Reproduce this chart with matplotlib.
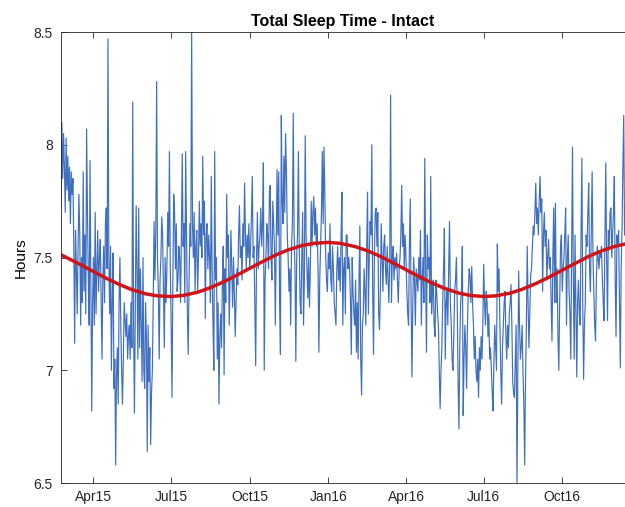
import matplotlib
matplotlib.use('Agg')
import matplotlib.pyplot as plt
import matplotlib.dates as mdates
import pandas as pd

# daily total sleep time (hours), first night 2015-02-22
start_date = '2015-02-22'
tst_hours = [
    # Feb - May 2015
    7.72, 8.1, 7.85, 8.05, 7.9, 7.7, 8.03, 7.8, 7.95, 7.75,
    7.9, 7.65, 7.88, 7.78, 7.85, 7.55, 7.12, 7.62, 7.45, 7.25,
    7.55, 7.78, 7.6, 7.2, 7.5, 7.3, 7.88, 7.35, 7.6, 7.25,
    8.07, 7.7, 7.4, 7.2, 7.93, 7.4, 6.82, 7.3, 7.5, 7.2,
    7.7, 7.25, 7.45, 7.62, 7.35, 7.5, 7.58, 7.3, 7.05, 7.4,
    7.55, 7.3, 7.65, 7.72, 7.45, 8.47, 7.5, 7.25, 7.55, 7.0,
    7.3, 7.52, 6.92, 7.05, 6.58, 6.98, 7.1, 6.85, 7.3, 7.5,
    7.2, 7.0, 6.85, 7.05, 7.3, 7.22, 7.15, 7.25, 7.05, 7.15,
    7.2, 7.05, 7.3, 7.1,
    # May - Aug 2015
    8.19, 7.2, 6.81, 7.3, 7.73, 7.45, 7.05, 7.72, 7.1, 7.45,
    7.2, 6.95, 7.5, 7.0, 6.92, 7.3, 7.15, 6.64, 7.2, 6.95,
    7.1, 6.67, 6.9, 7.0, 7.3, 7.66, 7.4, 7.6, 8.28, 7.5,
    7.35, 7.05, 7.4, 7.5, 7.68, 7.6, 7.35, 7.1, 7.5, 7.3,
    7.45, 7.7, 7.55, 7.97, 7.45, 7.2, 6.88, 7.4, 7.78, 7.7,
    7.45, 7.65, 7.35, 7.4, 7.55, 7.5, 7.3, 7.6, 7.96, 7.55,
    7.65, 7.3, 7.97, 7.6, 7.25, 7.07, 7.4, 7.65, 7.55, 8.52,
    7.65, 7.5, 7.7, 7.35, 7.55, 7.62, 7.35, 7.5, 7.75, 7.55,
    7.65, 7.5, 7.95, 7.6, 7.75,
    # Aug - Oct 2015
    7.23, 7.6, 7.65, 7.45, 7.6, 7.5, 7.3, 7.86, 7.45, 7.2,
    7.0, 7.97, 7.4, 7.5, 7.05, 7.3, 6.85, 7.15, 7.25, 7.1,
    7.4, 7.55, 6.98, 7.45, 7.3, 7.78, 7.5, 7.6, 7.2, 7.4,
    7.62, 7.45, 7.28, 7.5, 7.35, 7.15, 7.3, 7.45, 7.38, 7.6,
    7.73, 7.5, 7.55, 7.4, 7.65, 7.55, 7.83, 7.6, 7.45, 7.6,
    7.5, 7.65, 7.45, 7.55, 7.68, 7.86, 7.5, 7.55, 7.3, 7.02,
    7.5, 7.7, 7.45, 7.55, 7.6, 7.72, 7.55, 7.65, 7.92, 7.0,
    7.4, 7.5, 7.65, 7.6, 7.45, 7.78, 7.82, 7.5, 7.4, 7.75,
    7.65, 7.55,
    # Oct 2015 - Jan 2016
    7.2, 7.55, 7.89, 7.6, 7.88, 7.3, 7.07, 8.13, 7.75, 7.65,
    7.95, 7.7, 8.05, 7.88, 7.6, 7.5, 7.35, 7.45, 7.2, 7.55,
    7.65, 8.14, 7.6, 7.45, 7.04, 7.5, 7.6, 7.97, 7.55, 7.3,
    7.25, 7.5, 7.7, 7.2, 7.4, 8.04, 7.6, 7.45, 7.32, 7.5,
    7.28, 7.45, 7.75, 7.55, 7.7, 7.77, 7.6, 7.72, 7.55, 7.65,
    7.45, 7.08, 7.4, 7.55, 7.7, 7.97, 7.65, 7.99, 7.78, 7.5,
    7.4, 7.35, 7.52, 7.45, 7.65, 7.4, 7.35, 7.55, 7.45, 7.3,
    7.25, 7.2, 7.45, 7.55, 7.4, 7.5, 7.35, 7.6, 7.79, 7.2,
    7.45, 7.5,
    # Jan - Apr 2016
    7.25, 7.6, 7.6, 7.45, 7.5, 7.45, 7.3, 7.07, 7.5, 7.35,
    7.25, 7.2, 7.4, 7.08, 7.3, 7.05, 7.4, 7.64, 7.05, 6.89,
    7.2, 7.25, 7.45, 7.35, 7.2, 7.55, 7.79, 7.25, 7.5, 7.66,
    7.6, 8.0, 7.35, 7.07, 7.5, 7.7, 7.72, 7.55, 7.7, 7.25,
    7.18, 7.35, 7.65, 7.5, 7.35, 7.55, 7.6, 7.45, 7.38, 7.55,
    7.4, 7.3, 7.5, 8.22, 7.3, 7.5, 7.55, 7.4, 7.5, 7.45,
    7.52, 7.4, 7.3, 7.45, 7.5, 7.6, 7.82, 7.55, 7.65, 7.45,
    7.6, 7.5, 7.35, 7.25, 7.2, 7.55, 7.76, 7.3, 6.97, 7.3,
    7.5, 7.4,
    # Apr - Jul 2016
    7.2, 7.45, 7.4, 7.35, 7.5, 7.4, 7.62, 7.2, 7.4, 7.5,
    7.3, 7.94, 7.45, 7.08, 7.6, 7.45, 7.5, 7.3, 7.86, 7.25,
    7.35, 7.4, 7.2, 7.15, 7.4, 7.35, 7.25, 7.2, 7.0, 6.83,
    7.0, 7.1, 7.3, 7.45, 7.63, 7.05, 7.3, 7.35, 7.2, 7.45,
    7.66, 7.3, 7.2, 7.05, 7.0, 7.15, 7.35, 7.4, 7.5, 7.3,
    6.95, 6.74, 7.1, 7.3, 7.35, 7.55, 6.8, 7.05, 7.2, 7.1,
    6.92, 7.2, 7.35, 7.45, 7.42, 7.3, 7.46, 7.3, 7.2, 7.05,
    7.15, 7.0, 6.95, 7.05, 6.88, 7.1, 7.0, 7.15, 7.05, 7.2,
    7.47, 7.3,
    # Jul - Sep 2016
    7.2, 7.35, 7.3, 7.15, 7.25, 7.05, 7.1, 7.0, 6.9, 6.82,
    7.05, 7.2, 7.1, 7.0, 7.56, 7.35, 7.45, 7.2, 7.0, 6.85,
    7.1, 7.2, 7.3, 7.35, 7.15, 7.05, 7.2, 7.1, 7.25, 7.3,
    7.38, 7.2, 6.95, 6.9, 6.88, 7.05, 7.2, 6.48, 7.0, 7.44,
    7.2, 7.05, 7.1, 7.2, 7.0, 6.85, 6.58, 6.95, 7.2, 7.55,
    7.3, 7.1, 7.25, 7.42, 7.45, 7.55, 7.64, 7.6, 7.7, 7.83,
    7.65, 7.72, 7.6, 7.75, 7.86, 7.7, 7.76, 7.35, 7.6, 7.7,
    7.55, 7.62, 7.4, 7.5, 7.58, 7.45, 7.5, 7.3, 7.13, 7.5,
    7.72, 7.3,
    # Sep - Dec 2016
    7.74, 7.3, 7.45, 7.15, 7.0, 7.3, 7.55, 7.6, 7.35, 7.45,
    7.5, 7.6, 7.72, 7.2, 7.5, 7.6, 7.35, 7.25, 7.05, 7.5,
    7.99, 7.4, 7.05, 7.6, 7.3, 6.97, 7.3, 7.4, 7.25, 7.2,
    7.6, 7.94, 7.3, 6.96, 7.2, 7.3, 7.6, 7.55, 7.7, 7.83,
    7.45, 7.35, 7.6, 7.88, 7.5, 7.35, 7.2, 7.13, 7.4, 7.55,
    7.5, 7.45, 7.52, 7.5, 7.55, 7.4, 7.3, 7.22, 7.6, 7.92,
    7.5, 7.22, 7.62, 7.55, 7.7, 7.72, 7.5, 7.6, 7.7, 7.86,
    7.4, 7.15, 7.6, 7.55, 7.62, 7.3, 7.01, 7.45, 7.62, 7.9,
    8.13, 7.6,
]

# seasonal fit
fit_dates = [
    '2015-02-22', '2015-03-01', '2015-03-15', '2015-04-01', '2015-04-15',
    '2015-05-01', '2015-05-15', '2015-06-01', '2015-06-15', '2015-07-01',
    '2015-07-15', '2015-08-01', '2015-08-15', '2015-09-01', '2015-09-15',
    '2015-10-01', '2015-10-15', '2015-11-01', '2015-11-15', '2015-12-01',
    '2015-12-15', '2016-01-01', '2016-01-15', '2016-02-01', '2016-02-15',
    '2016-03-01', '2016-03-15', '2016-04-01', '2016-04-15', '2016-05-01',
    '2016-05-15', '2016-06-01', '2016-06-15', '2016-07-01', '2016-07-15',
    '2016-08-01', '2016-08-15', '2016-09-01', '2016-09-15', '2016-10-01',
    '2016-10-15', '2016-11-01', '2016-11-15', '2016-12-01', '2016-12-15',
]
fit_hours = [
    7.512, 7.499, 7.472, 7.438, 7.410,
    7.381, 7.359, 7.339, 7.330, 7.327,
    7.332, 7.346, 7.365, 7.393, 7.420,
    7.452, 7.480, 7.512, 7.534, 7.553,
    7.563, 7.567, 7.563, 7.549, 7.531,
    7.507, 7.480, 7.446, 7.418, 7.388,
    7.365, 7.343, 7.332, 7.327, 7.330,
    7.342, 7.359, 7.386, 7.412, 7.444,
    7.472, 7.505, 7.528, 7.549, 7.561,
]

plt.rcParams['font.family'] = ['Liberation Sans', 'DejaVu Sans']

dates = pd.date_range(start_date, periods=len(tst_hours), freq='D')

fig = plt.figure(figsize=(6.25, 5.07), dpi=100)
ax = fig.add_axes([0.0976, 0.0473, 0.9024, 0.8895])

ax.plot(dates, tst_hours, color='#3f6fc0', lw=0.85)
ax.plot(pd.to_datetime(fit_dates), fit_hours, color='#cf1519', lw=2.5)

ax.set_xlim(pd.Timestamp('2015-02-22'), pd.Timestamp('2016-12-13 12:00'))
ax.set_ylim(6.5, 8.5)
ax.set_yticks([6.5, 7, 7.5, 8, 8.5])
ax.set_yticklabels(['6.5', '7', '7.5', '8', '8.5'])
ax.xaxis.set_major_locator(mdates.MonthLocator(bymonth=[1, 4, 7, 10]))
ax.xaxis.set_major_formatter(mdates.DateFormatter('%b%y'))

ax.tick_params(direction='in', top=True, right=False, length=4, width=0.6,
               labelsize=10, colors='#262626')
ax.tick_params(axis='x', pad=5)
ax.tick_params(axis='y', pad=6)
for side in ['left', 'top', 'bottom']:
    ax.spines[side].set_color('#262626')
    ax.spines[side].set_linewidth(0.6)
ax.spines['right'].set_visible(False)

ax.set_title('Total Sleep Time - Intact', fontsize=11.5, fontweight='bold', pad=4)
ax.set_ylabel('Hours', fontsize=11, labelpad=4)

fig.savefig('out.png')
